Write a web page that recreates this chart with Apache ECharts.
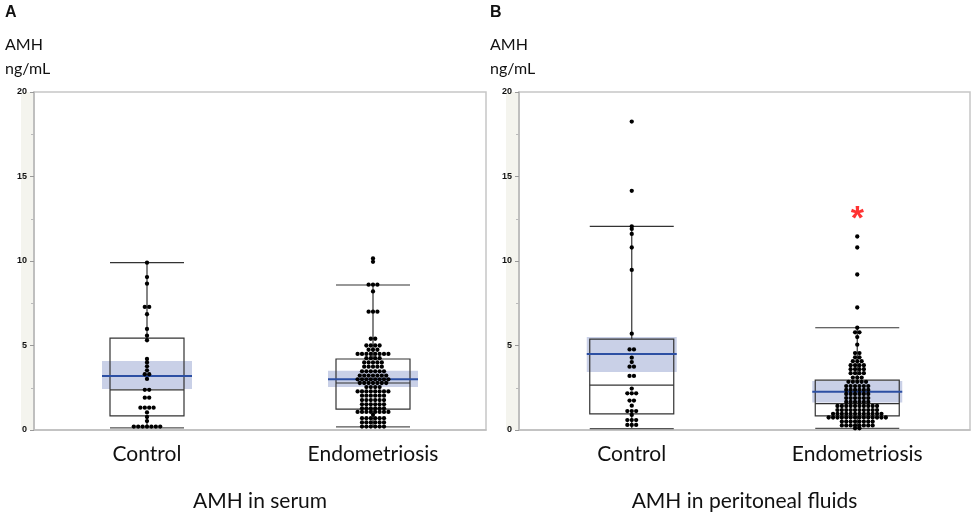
<!DOCTYPE html>
<html><head><meta charset="utf-8">
<script src="https://cdn.jsdelivr.net/npm/echarts@6/dist/echarts.min.js"></script>
<style>html,body{margin:0;padding:0;background:#fff}#c{width:976px;height:517px}</style>
</head><body><div id="c"></div>
<script>
// ---------- data ----------
const categories = ['Control', 'Endometriosis'];
const panelLetters = ['A', 'B'];
const panelTitles = ['AMH in serum', 'AMH in peritoneal fluids'];
const yAxisName = 'AMH\nng/mL';
const yMin = 0, yMax = 20, yInterval = 5;

const serumControl = [9.9, 9.05, 8.66, 7.28, 7.28, 6.85, 5.98, 5.58, 5.31, 4.2, 4.0, 3.77, 3.53, 3.3, 3.3, 3.02,
  2.38, 2.38, 1.91, 1.91, 1.32, 1.32, 1.32, 1.32, 1.04, 0.77, 0.53, 0.2, 0.2, 0.2, 0.2, 0.2, 0.2, 0.2];
const serumEndo = [10.15, 9.95, 8.6, 8.6, 8.6, 8.2, 7.0, 7.0, 7.0, 5.4, 5.4, 5.0, 5.0, 5.0, 5.0, 4.75, 4.75, 4.75,
  4.5, 4.5, 4.5, 4.5, 4.5, 4.5, 4.5, 4.5, 4.25, 4.25, 4.25, 4.25, 4.0, 4.0, 4.0, 4.0, 4.0,
  3.75, 3.75, 3.75, 3.75, 3.75, 3.47, 3.47, 3.47, 3.47, 3.47, 3.47, 3.22, 3.22, 3.22, 3.22, 3.22, 3.22, 3.22,
  3.0, 3.0, 3.0, 3.0, 3.0, 3.0, 3.0, 3.0, 2.78, 2.78, 2.78, 2.78, 2.78, 2.78, 2.78, 2.54, 2.54, 2.54, 2.54,
  2.28, 2.28, 2.28, 2.28, 2.28, 2.28, 2.28, 2.28, 2.03, 2.03, 2.03, 2.03, 2.03, 2.03,
  1.77, 1.77, 1.77, 1.77, 1.77, 1.77, 1.52, 1.52, 1.52, 1.52, 1.52, 1.52, 1.28, 1.28, 1.28, 1.28, 1.28, 1.28,
  1.07, 1.07, 1.07, 1.07, 1.07, 1.07, 1.07, 1.07, 0.9, 0.7, 0.7, 0.7, 0.7, 0.7, 0.7,
  0.45, 0.45, 0.45, 0.45, 0.45, 0.45, 0.2, 0.2, 0.2, 0.2, 0.2, 0.2];
const pfControl = [18.25, 14.15, 12.05, 11.9, 11.6, 10.8, 9.47, 5.7, 4.77, 4.77, 4.28, 4.02, 3.75, 3.75, 3.2, 3.2,
  2.45, 2.17, 2.17, 2.17, 1.74, 1.74, 1.44, 1.12, 1.12, 1.12, 0.89, 0.59, 0.59, 0.59, 0.3, 0.3, 0.3];
const pfEndo = [11.45, 10.8, 9.2, 7.25, 6.05, 5.78, 5.78, 5.5, 5.05, 4.55, 4.55, 4.3, 4.3, 4.07, 4.07, 4.07,
  3.83, 3.83, 3.83, 3.83, 3.6, 3.6, 3.6, 3.6, 3.36, 3.36, 3.36, 3.36, 3.1, 3.1, 3.1,
  2.85, 2.85, 2.85, 2.85, 2.85, 2.6, 2.6, 2.6, 2.6, 2.6, 2.6, 2.37, 2.37, 2.37, 2.37, 2.37, 2.37,
  2.13, 2.13, 2.13, 2.13, 2.13, 2.13, 1.89, 1.89, 1.89, 1.89, 1.89, 1.89, 1.66, 1.66, 1.66, 1.66, 1.66, 1.66,
  1.42, 1.42, 1.42, 1.42, 1.42, 1.42, 1.42, 1.42, 1.42, 1.42, 1.18, 1.18, 1.18, 1.18, 1.18, 1.18, 1.18, 1.18, 1.18, 1.18,
  0.96, 0.96, 0.96, 0.96, 0.96, 0.96, 0.96, 0.96, 0.96, 0.96, 0.96, 0.96,
  0.74, 0.74, 0.74, 0.74, 0.74, 0.74, 0.74, 0.74, 0.74, 0.74, 0.74, 0.74, 0.74, 0.74,
  0.5, 0.5, 0.5, 0.5, 0.5, 0.5, 0.5, 0.5, 0.27, 0.27, 0.27, 0.27, 0.27, 0.27, 0.27, 0.27, 0.1, 0.1];

// box statistics [lower whisker, Q1, median, Q3, upper whisker]
const serumControlBox = [0.12, 0.83, 2.37, 5.44, 9.9];
const serumEndoBox = [0.18, 1.24, 2.78, 4.2, 8.58];
const pfControlBox = [0.08, 0.95, 2.66, 5.38, 12.05];
const pfEndoBox = [0.1, 0.83, 1.56, 2.95, 6.05];
// mean and its confidence band [mean, low, high]
const serumControlMean = [3.2, 2.43, 4.08];
const serumEndoMean = [3.0, 2.54, 3.5];
const pfControlMean = [4.5, 3.43, 5.5];
const pfEndoMean = [2.27, 1.62, 2.9];
// significance marker: panel B, Endometriosis
const sigPanel = 1, sigGroup = 1, sigValue = 13.0, sigText = '*';

// ---------- layout / style ----------
const GRIDS = [{left: 34, top: 92, width: 452, height: 338}, {left: 519, top: 92, width: 451, height: 338}];
const boxHalfPx = [37, 42];
const bandHalfPx = 45;
const dotPitchPx = 4.4;
const dotSize = 4.3;
const FONT = 'Lato, "Open Sans", sans-serif';

const panels = [
  {values: [serumControl, serumEndo], boxes: [serumControlBox, serumEndoBox], means: [serumControlMean, serumEndoMean]},
  {values: [pfControl, pfEndo], boxes: [pfControlBox, pfEndoBox], means: [pfControlMean, pfEndoMean]}
];

// dot-plot layout: group near-equal values in rows, spread symmetrically around category center
function swarm(vals, center, unitsPerPx) {
  const s = vals.slice().sort((a, b) => b - a);
  const rows = [];
  s.forEach(v => {
    const r = rows[rows.length - 1];
    if (r && Math.abs(r[0] - v) < 0.12) r.push(v); else rows.push([v]);
  });
  const out = [];
  rows.forEach(r => {
    const n = r.length;
    r.forEach((v, i) => out.push([center + (i - (n - 1) / 2) * dotPitchPx * unitsPerPx, v]));
  });
  return out;
}

function boxRender(boxHalf) {
  return function (params, api) {
    const x = api.value(0);
    const Y = v => api.coord([x, v])[1];
    const cx = api.coord([x, 0])[0];
    const lo = Y(api.value(1)), q1 = Y(api.value(2)), med = Y(api.value(3)), q3 = Y(api.value(4)), hi = Y(api.value(5));
    const mean = Y(api.value(6)), cl = Y(api.value(7)), ch = Y(api.value(8));
    const ls = {stroke: '#333', lineWidth: 1.2};
    return {type: 'group', children: [
      {type: 'rect', shape: {x: cx - bandHalfPx, y: ch, width: 2 * bandHalfPx, height: cl - ch}, style: {fill: '#c9d0e7'}},
      {type: 'rect', shape: {x: cx - boxHalf, y: q3, width: 2 * boxHalf, height: q1 - q3}, style: {fill: 'none', stroke: '#333', lineWidth: 1.2}},
      {type: 'line', shape: {x1: cx - boxHalf, y1: med, x2: cx + boxHalf, y2: med}, style: ls},
      {type: 'line', shape: {x1: cx, y1: hi, x2: cx, y2: q3}, style: ls},
      {type: 'line', shape: {x1: cx, y1: q1, x2: cx, y2: lo}, style: ls},
      {type: 'line', shape: {x1: cx - boxHalf, y1: hi, x2: cx + boxHalf, y2: hi}, style: ls},
      {type: 'line', shape: {x1: cx - boxHalf, y1: lo, x2: cx + boxHalf, y2: lo}, style: {stroke: '#555', lineWidth: 1.2}},
      {type: 'line', shape: {x1: cx - bandHalfPx, y1: mean, x2: cx + bandHalfPx, y2: mean}, style: {stroke: '#2c4fa3', lineWidth: 2}}
    ]};
  };
}

const grid = [], xAxis = [], yAxis = [], series = [], graphic = [];
panels.forEach((p, pi) => {
  const g = GRIDS[pi];
  grid.push(Object.assign({show: true, borderColor: '#c6c6c6', borderWidth: 1.5, backgroundColor: '#fff', containLabel: false}, g));
  xAxis.push({type: 'value', gridIndex: pi, min: 0, max: 2, show: false});
  xAxis.push({type: 'category', gridIndex: pi, data: categories, position: 'bottom', boundaryGap: true,
    axisLine: {show: true, lineStyle: {color: '#bdbdbd', width: 1.5}}, axisTick: {show: false},
    axisLabel: {fontSize: 21, fontFamily: FONT, color: '#111', margin: 14}});
  yAxis.push({type: 'value', gridIndex: pi, min: yMin, max: yMax, interval: yInterval,
    axisLine: {show: true, lineStyle: {color: '#b8b8b8', width: 1.5}},
    axisTick: {show: true, length: 4, lineStyle: {color: '#999'}},
    minorTick: {show: true, splitNumber: 2, length: 3, lineStyle: {color: '#bbb'}},
    splitLine: {show: false},
    axisLabel: {fontSize: 9, fontWeight: 'bold', fontFamily: 'Liberation Sans, Arial, sans-serif', color: '#111', margin: 7}});
  const unitsPerPx = 2 / g.width;
  const boxData = p.boxes.map((b, gi) => [gi + 0.5].concat(b, p.means[gi]));
  series.push({type: 'custom', xAxisIndex: pi * 2, yAxisIndex: pi, renderItem: boxRender(boxHalfPx[pi]),
    encode: {x: 0, y: [1, 5]}, data: boxData, z: 2, silent: true});
  p.values.forEach((vals, gi) => {
    series.push({type: 'scatter', xAxisIndex: pi * 2, yAxisIndex: pi, data: swarm(vals, gi + 0.5, unitsPerPx),
      symbolSize: dotSize, itemStyle: {color: '#000', opacity: 1}, z: 5, silent: true});
  });
  // side strip behind tick labels
  graphic.push({type: 'rect', z: -10, shape: {x: g.left - 13, y: g.top, width: 13, height: g.height}, style: {fill: '#f4f4ee'}});
  graphic.push({type: 'text', x: g.left - 29, y: 13, style: {text: panelLetters[pi], fontSize: 16, fontWeight: 'bold', fontFamily: 'Liberation Sans, Arial, sans-serif', fill: '#111', align: 'left', verticalAlign: 'middle'}});
  graphic.push({type: 'text', x: g.left - 29, y: 57, style: {text: yAxisName, fontSize: 16, lineHeight: 24, fontFamily: FONT, fill: '#111', align: 'left', verticalAlign: 'middle'}});
  graphic.push({type: 'text', x: g.left + g.width / 2, y: 501, style: {text: panelTitles[pi], fontSize: 21, fontFamily: FONT, fill: '#111', align: 'center', verticalAlign: 'middle'}});
});

series.push({type: 'scatter', xAxisIndex: sigPanel * 2, yAxisIndex: sigPanel, data: [[sigGroup + 0.5, sigValue]],
  symbolSize: 1, itemStyle: {color: 'rgba(0,0,0,0)'}, z: 6, silent: true,
  label: {show: true, position: 'inside', formatter: sigText, color: '#ff0000', fontSize: 34, fontWeight: 'bold', fontFamily: 'Liberation Sans, Arial, sans-serif', offset: [0, 9]}});

const chart = echarts.init(document.getElementById('c'), null, {renderer: 'canvas'});
chart.setOption({animation: false, backgroundColor: '#fff', grid, xAxis, yAxis, series, graphic});
</script></body></html>
